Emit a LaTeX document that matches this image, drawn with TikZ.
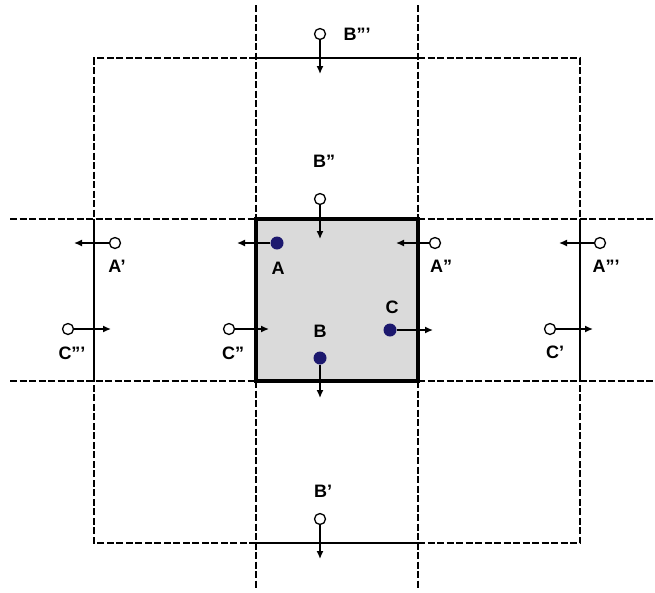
\documentclass[tikz,border=0pt]{standalone}
\usepackage{fontspec}
\setmainfont{Liberation Sans}
\usetikzlibrary{arrows.meta}
\definecolor{dotblue}{RGB}{28,24,110}
\definecolor{cellgray}{RGB}{218,218,218}
\tikzset{
  cutline/.style={line width=2.6pt, dash pattern=on 7pt off 2.5pt},
  wall/.style={line width=2.8pt},
  ghost/.style={circle, draw, fill=white, line width=1.3pt, minimum size=11pt, inner sep=0pt},
  real/.style={circle, fill=dotblue, minimum size=13pt, inner sep=0pt},
  move/.style={line width=1.4pt, -{Latex[length=8pt,width=7pt]}},
  lbl/.style={font=\fontsize{18}{20}\selectfont\bfseries, inner sep=0pt}
}
\begin{document}
\begin{tikzpicture}[x=1pt,y=-1pt]
\useasboundingbox (0,0) rectangle (655,592);
% central cell
\fill[cellgray] (256,219) rectangle (418,381);
% dashed cut lines through the central cell
\foreach \u in {256,418}
  \draw[cutline] (\u,5) -- (\u,219) (\u,381) -- (\u,590);
\foreach \v in {219,381}
  \draw[cutline] (10,\v) -- (256,\v) (418,\v) -- (655,\v);
% corner cells of the outer square
\draw[cutline] (256,58) -- (94,58) -- (94,219);
\draw[cutline] (418,58) -- (580,58) -- (580,219);
\draw[cutline] (256,543) -- (94,543) -- (94,381);
\draw[cutline] (418,543) -- (580,543) -- (580,381);
% solid outer walls of the side cells
\draw[wall] (256,58) -- (418,58);
\draw[wall] (256,543) -- (418,543);
\draw[wall] (94,219) -- (94,381);
\draw[wall] (580,219) -- (580,381);
% central square
\draw[line width=3.4pt] (256,219) rectangle (418,381);

% particles and their images
\node[real] (A) at (277,243) {};
\node[real] (B) at (320,358) {};
\node[real] (C) at (390,330) {};
\node[ghost] (A1) at (115,243) {};
\node[ghost] (A2) at (435,243) {};
\node[ghost] (A3) at (600,243) {};
\node[ghost] (B1) at (320,519) {};
\node[ghost] (B2) at (320,199) {};
\node[ghost] (B3) at (320,34) {};
\node[ghost] (C1) at (550,329) {};
\node[ghost] (C2) at (229,329) {};
\node[ghost] (C3) at (68,329) {};

% arrow ends
\coordinate (Ae) at (237,243);
\coordinate (A1e) at (74,243);
\coordinate (A2e) at (396,243);
\coordinate (A3e) at (559,243);
\coordinate (Be) at (320,398);
\coordinate (B1e) at (320,559);
\coordinate (B2e) at (320,239);
\coordinate (B3e) at (320,74);
\coordinate (Ce) at (433,330);
\coordinate (C1e) at (593,329);
\coordinate (C2e) at (269,329);
\coordinate (C3e) at (111,329);

% velocities
\foreach \p in {A,A1,A2,A3,B,B1,B2,B3,C,C1,C2,C3}
  \draw[move] (\p) -- (\p e);

% labels
\node[lbl] (lA) at (278,268) {A};
\node[lbl] (lA1) at (117,266) {A'};
\node[lbl] (lA2) at (441,266) {A''};
\node[lbl] (lA3) at (606,266) {A'''};
\node[lbl] (lB) at (320,331) {B};
\node[lbl] (lB1) at (323,491) {B'};
\node[lbl] (lB2) at (324,161) {B''};
\node[lbl] (lB3) at (357,34) {B'''};
\node[lbl] (lC) at (392,307) {C};
\node[lbl] (lC1) at (555,352) {C'};
\node[lbl] (lC2) at (233,353) {C''};
\node[lbl] (lC3) at (72,353) {C'''};
\end{tikzpicture}
\end{document}
